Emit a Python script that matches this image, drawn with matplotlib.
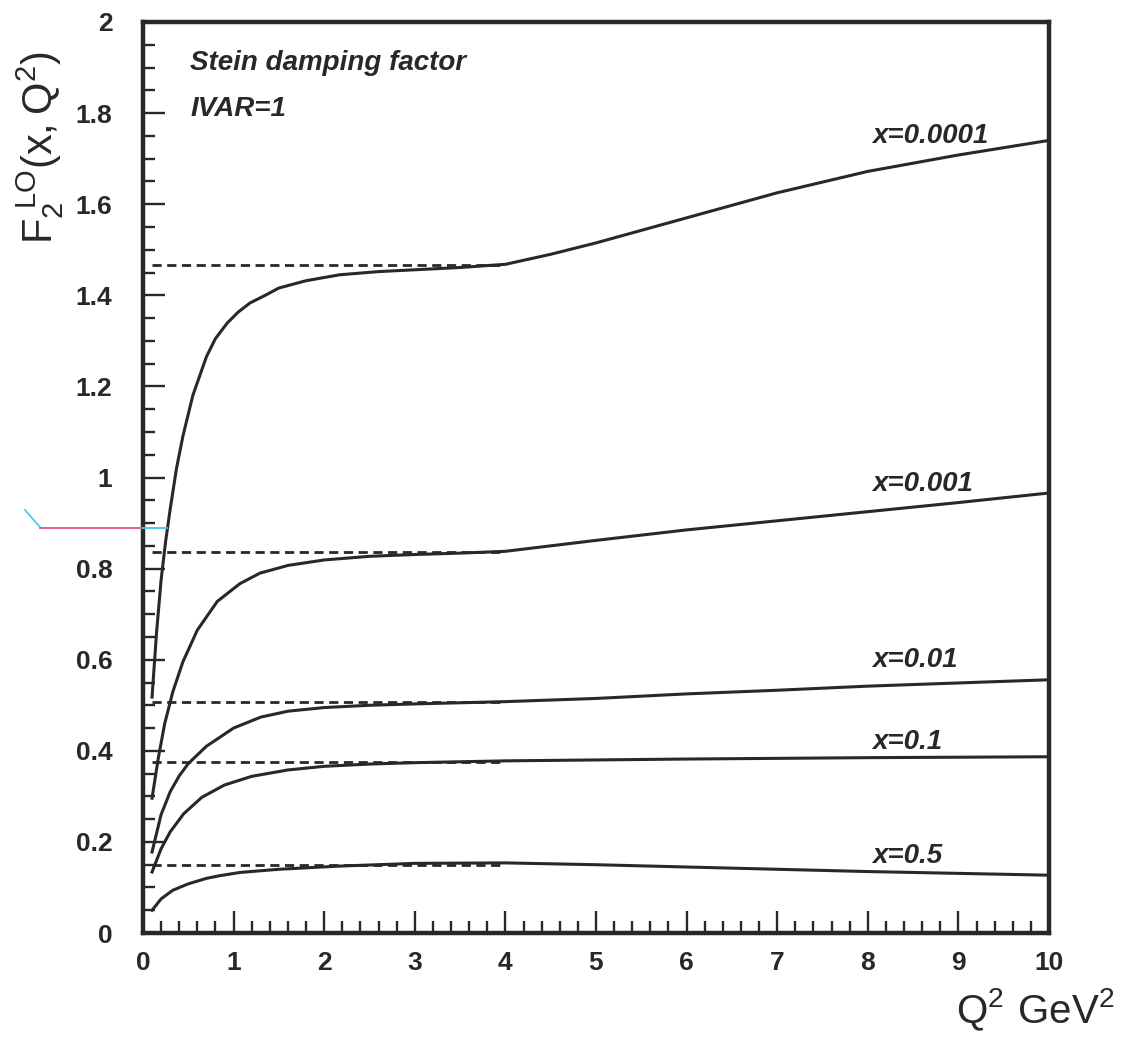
import matplotlib
matplotlib.use("Agg")
import matplotlib.pyplot as plt
from matplotlib.ticker import MultipleLocator, FixedLocator, FixedFormatter
from matplotlib.lines import Line2D

# values: Q^2 in GeV^2, F2 at LO
q2_x00001 = [0.1, 0.15, 0.2, 0.25, 0.3, 0.37, 0.44, 0.55, 0.7, 0.8, 0.93, 1.05, 1.18, 1.35, 1.5, 1.8,
             2.17, 2.6, 3.0, 3.5, 4.0, 4.5, 5.0, 6.0, 7.0, 8.0, 9.0, 10.0]
f2_x00001 = [0.518, 0.66, 0.775, 0.86, 0.93, 1.02, 1.09, 1.18, 1.265, 1.305, 1.339, 1.363, 1.383, 1.40,
             1.416, 1.432, 1.445, 1.452, 1.456, 1.461, 1.468, 1.49, 1.515, 1.57, 1.625, 1.672, 1.708, 1.74]

q2_x0001 = [0.1, 0.17, 0.24, 0.33, 0.44, 0.6, 0.82, 1.07, 1.29, 1.6, 2.0, 2.5, 3.0, 3.5, 4.0,
            5.0, 6.0, 7.0, 8.0, 9.0, 10.0]
f2_x0001 = [0.296, 0.385, 0.46, 0.53, 0.595, 0.665, 0.728, 0.767, 0.79, 0.807, 0.819, 0.827, 0.831, 0.834,
            0.838, 0.862, 0.885, 0.905, 0.925, 0.945, 0.966]

q2_x001 = [0.1, 0.2, 0.3, 0.4, 0.5, 0.7, 1.0, 1.3, 1.6, 2.0, 2.5, 3.0, 4.0, 5.0, 6.0, 7.0, 8.0, 9.0, 10.0]
f2_x001 = [0.178, 0.26, 0.31, 0.345, 0.372, 0.41, 0.45, 0.474, 0.487, 0.495, 0.5, 0.503, 0.508, 0.515,
           0.525, 0.533, 0.542, 0.549, 0.556]

q2_x01 = [0.1, 0.2, 0.3, 0.45, 0.65, 0.9, 1.2, 1.6, 2.0, 2.5, 3.0, 4.0, 6.0, 8.0, 10.0]
f2_x01 = [0.134, 0.185, 0.222, 0.262, 0.298, 0.325, 0.344, 0.358, 0.366, 0.371, 0.374, 0.378, 0.382,
          0.385, 0.387]

q2_x05 = [0.1, 0.2, 0.33, 0.5, 0.7, 0.85, 1.07, 1.5, 2.17, 3.0, 4.0, 5.0, 6.0, 7.0, 8.0, 9.0, 10.0]
f2_x05 = [0.05, 0.075, 0.094, 0.108, 0.12, 0.126, 0.133, 0.14, 0.147, 0.153, 0.154, 0.15, 0.145,
          0.14, 0.135, 0.131, 0.127]

# frozen values below Q0^2 (dashed)
dash_q2 = [0.1, 4.0]
dash_levels = [1.467, 0.836, 0.507, 0.375, 0.149]

curve_labels = ["x=0.0001", "x=0.001", "x=0.01", "x=0.1", "x=0.5"]
label_q2 = 8.05
label_f2 = [1.75, 0.986, 0.60, 0.42, 0.17]

xticks = [0, 1, 2, 3, 4, 5, 6, 7, 8, 9, 10]
yticks = [0, 0.2, 0.4, 0.6, 0.8, 1.0, 1.2, 1.4, 1.6, 1.8, 2.0]
ytick_labels = ["0", "0.2", "0.4", "0.6", "0.8", "1", "1.2", "1.4", "1.6", "1.8", "2"]

ink = "#2a2826"

fig = plt.figure(figsize=(11.24, 10.41), dpi=100)
ax = fig.add_axes([0.1272, 0.1037, 0.8061, 0.8752])

curves = [(q2_x00001, f2_x00001), (q2_x0001, f2_x0001), (q2_x001, f2_x001),
          (q2_x01, f2_x01), (q2_x05, f2_x05)]
for q2, f2 in curves:
    ax.plot(q2, f2, color=ink, lw=2.2, solid_joinstyle="round")

for lev in dash_levels:
    ax.plot(dash_q2, [lev, lev], color=ink, lw=2.0, dashes=(3.3, 2.0))

for lab, yv in zip(curve_labels, label_f2):
    ax.text(label_q2, yv, lab, fontsize=20, fontweight="bold", fontstyle="italic",
            family="Liberation Sans", color=ink, va="center", ha="left")

ax.text(0.52, 1.91, "Stein damping factor", fontsize=20, fontweight="bold",
        fontstyle="italic", family="Liberation Sans", color=ink, va="center")
ax.text(0.52, 1.81, "IVAR=1", fontsize=20, fontweight="bold",
        fontstyle="italic", family="Liberation Sans", color=ink, va="center")

ax.set_xlim(0, 10)
ax.set_ylim(0, 2)
ax.xaxis.set_major_locator(FixedLocator(xticks))
ax.xaxis.set_minor_locator(MultipleLocator(0.2))
ax.yaxis.set_major_locator(FixedLocator(yticks))
ax.yaxis.set_major_formatter(FixedFormatter(ytick_labels))
ax.yaxis.set_minor_locator(MultipleLocator(0.05))
ax.tick_params(which="both", direction="in", top=False, right=False,
               color=ink, width=1.7)
ax.tick_params(which="major", length=16, pad=13)
ax.tick_params(which="minor", length=8.5)
ax.tick_params(axis="y", which="major", pad=22)
for lab in ax.get_xticklabels() + ax.get_yticklabels():
    lab.set_family("Liberation Sans")
    lab.set_fontweight("bold")
    lab.set_fontsize(19)
    lab.set_color(ink)
for sp in ax.spines.values():
    sp.set_linewidth(3.2)
    sp.set_color(ink)

# axis titles
fig.text(0.036, 0.858, r"$\mathregular{F_2^{\ LO}(x,Q^2)}$", rotation=90,
         fontsize=30, family="Liberation Sans", color=ink, ha="center", va="center")
fig.text(0.992, 0.030, r"$\mathregular{Q^2\ GeV^2}$", fontsize=29,
         family="Liberation Sans", color=ink, ha="right", va="center")

# stray coloured mark on the left margin of the scan
W, H = 1124, 1041
fig.add_artist(Line2D([25 / W, 40 / W], [1 - 510 / H, 1 - 527 / H], color="#3cc8e8", lw=1.2))
fig.add_artist(Line2D([40 / W, 143 / W], [1 - 528 / H, 1 - 528 / H], color="#e8508a", lw=1.3))
fig.add_artist(Line2D([143 / W, 167 / W], [1 - 528 / H, 1 - 528 / H], color="#3cc8e8", lw=1.3))

fig.savefig("out.png", dpi=100, facecolor="white")
